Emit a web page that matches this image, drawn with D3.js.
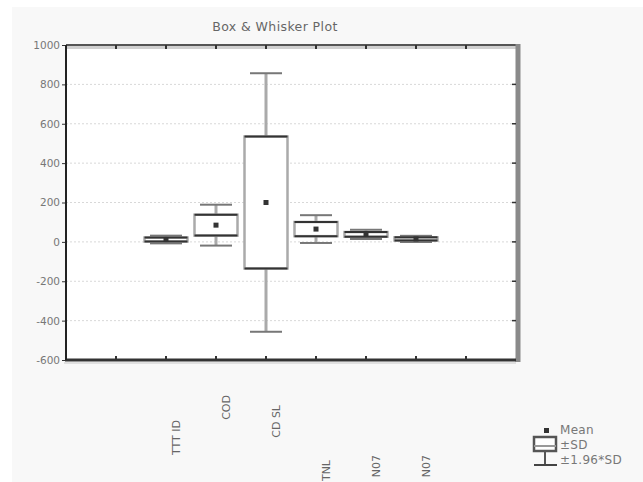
<!DOCTYPE html>
<html>
<head>
<meta charset="utf-8">
<script src="https://cdn.jsdelivr.net/npm/d3@7"></script>
<style>
  body { margin: 0; background: #fff; }
  text { font-family: "DejaVu Sans", Verdana, sans-serif; }
</style>
</head>
<body>
<svg width="643" height="482"></svg>
<script>
// variables (x positions 2..7 on a 0..9 axis)
const categories = ['TTT ID', 'COD', 'CD SL', 'TNL', 'N07', 'N07'];
const means = [12, 85, 200, 65, 38, 15];
const sds = [10, 53, 335, 36, 12, 8];
const yTicks = [1000, 800, 600, 400, 200, 0, -200, -400, -600];
const legendLabels = ['Mean', '±SD', '±1.96*SD'];

// where each rotated label starts (layout only)
const labelTop = [420, 395, 405, 460, 455, 455];

const pLeft = 66, pRight = 516, pTop = 45, pBottom = 360;
const fontFam = '"DejaVu Sans", Verdana, sans-serif';

const svg = d3.select('svg');

svg.append('rect').attr('x', 12).attr('y', 7).attr('width', 631).attr('height', 475).attr('fill', '#f8f8f8');
svg.append('rect').attr('x', pLeft).attr('y', pTop).attr('width', pRight - pLeft).attr('height', pBottom - pTop).attr('fill', '#fff');

const yScale = d3.scaleLinear().domain([-600, 1000]).range([pBottom, pTop]);
const xScale = d3.scaleLinear().domain([0, 9]).range([pLeft, pRight]);

// dotted grid
svg.append('g')
    .selectAll('line')
    .data(yTicks.slice(1, -1))
    .enter()
    .append('line')
    .attr('x1', pLeft).attr('x2', pRight)
    .attr('y1', (d) => yScale(d)).attr('y2', (d) => yScale(d))
    .attr('stroke', '#d8d8d8')
    .attr('stroke-dasharray', '2,2');

// frame
svg.append('line').attr('x1', pLeft).attr('x2', pRight).attr('y1', pTop + 2.5).attr('y2', pTop + 2.5).attr('stroke', '#d0d0d0').attr('stroke-width', 3);
svg.append('line').attr('x1', pLeft).attr('x2', pRight + 4).attr('y1', pTop).attr('y2', pTop).attr('stroke', '#555').attr('stroke-width', 2);
svg.append('line').attr('x1', pRight + 2).attr('x2', pRight + 2).attr('y1', pTop - 1).attr('y2', pBottom + 2).attr('stroke', '#8a8a8a').attr('stroke-width', 5);
svg.append('line').attr('x1', pLeft - 2).attr('x2', pRight).attr('y1', pBottom + 3).attr('y2', pBottom + 3).attr('stroke', '#e0e0e0').attr('stroke-width', 2);
svg.append('line').attr('x1', pLeft - 1).attr('x2', pRight).attr('y1', pBottom).attr('y2', pBottom).attr('stroke', '#333').attr('stroke-width', 3);
svg.append('line').attr('x1', pLeft).attr('x2', pLeft).attr('y1', pTop).attr('y2', pBottom).attr('stroke', '#222').attr('stroke-width', 2);

// y axis (ticks outside, labels)
svg.append('g')
    .attr('transform', `translate(${pLeft - 1}, 0)`)
    .call(d3.axisLeft(yScale).tickValues(yTicks).tickFormat((d) => String(d)).tickSize(3).tickPadding(2))
    .call((g) => g.select('.domain').remove())
    .call((g) => g.selectAll('line').attr('stroke', '#333'))
    .call((g) => g.selectAll('text').attr('font-size', 10.5).attr('fill', '#777').attr('font-family', fontFam));

// right ticks
svg.append('g')
    .selectAll('line')
    .data(yTicks.slice(1, -1))
    .enter()
    .append('line')
    .attr('x1', pRight - 4).attr('x2', pRight)
    .attr('y1', (d) => yScale(d)).attr('y2', (d) => yScale(d))
    .attr('stroke', '#333').attr('stroke-width', 1.5);

// top and bottom ticks
const xTicks = d3.range(1, 9);
svg.append('g')
    .selectAll('line')
    .data(xTicks)
    .enter()
    .append('line')
    .attr('x1', (d) => xScale(d)).attr('x2', (d) => xScale(d))
    .attr('y1', pTop).attr('y2', pTop + 4)
    .attr('stroke', '#333').attr('stroke-width', 2);
svg.append('g')
    .selectAll('line')
    .data(xTicks)
    .enter()
    .append('line')
    .attr('x1', (d) => xScale(d)).attr('x2', (d) => xScale(d))
    .attr('y1', pBottom - 4).attr('y2', pBottom)
    .attr('stroke', '#333').attr('stroke-width', 2);

// boxes
const stats = categories.map((c, i) => ({ name: c, pos: i + 2, mean: means[i], sd: sds[i] }));
const boxW = 43, capW = 32;

const boxes = svg.append('g').selectAll('g').data(stats).enter().append('g');

boxes.append('line')
    .attr('x1', (s) => xScale(s.pos)).attr('x2', (s) => xScale(s.pos))
    .attr('y1', (s) => yScale(s.mean + 1.96 * s.sd)).attr('y2', (s) => yScale(s.mean - 1.96 * s.sd))
    .attr('stroke', '#aaa').attr('stroke-width', 3);

boxes.append('line')
    .attr('x1', (s) => xScale(s.pos) - capW / 2).attr('x2', (s) => xScale(s.pos) + capW / 2)
    .attr('y1', (s) => yScale(s.mean + 1.96 * s.sd)).attr('y2', (s) => yScale(s.mean + 1.96 * s.sd))
    .attr('stroke', '#777').attr('stroke-width', 2);
boxes.append('line')
    .attr('x1', (s) => xScale(s.pos) - capW / 2).attr('x2', (s) => xScale(s.pos) + capW / 2)
    .attr('y1', (s) => yScale(s.mean - 1.96 * s.sd)).attr('y2', (s) => yScale(s.mean - 1.96 * s.sd))
    .attr('stroke', '#777').attr('stroke-width', 2);

boxes.append('rect')
    .attr('x', (s) => xScale(s.pos) - boxW / 2)
    .attr('y', (s) => yScale(s.mean + s.sd))
    .attr('width', boxW)
    .attr('height', (s) => yScale(s.mean - s.sd) - yScale(s.mean + s.sd))
    .attr('fill', '#fff')
    .attr('stroke', '#aaa').attr('stroke-width', 2.5);

boxes.append('line')
    .attr('x1', (s) => xScale(s.pos) - boxW / 2).attr('x2', (s) => xScale(s.pos) + boxW / 2)
    .attr('y1', (s) => yScale(s.mean + s.sd)).attr('y2', (s) => yScale(s.mean + s.sd))
    .attr('stroke', '#333').attr('stroke-width', 2);
boxes.append('line')
    .attr('x1', (s) => xScale(s.pos) - boxW / 2).attr('x2', (s) => xScale(s.pos) + boxW / 2)
    .attr('y1', (s) => yScale(s.mean - s.sd)).attr('y2', (s) => yScale(s.mean - s.sd))
    .attr('stroke', '#333').attr('stroke-width', 2);

boxes.append('rect')
    .attr('x', (s) => xScale(s.pos) - 2.5)
    .attr('y', (s) => yScale(s.mean) - 2.5)
    .attr('width', 5).attr('height', 5)
    .attr('fill', '#333');

// category labels, rotated
svg.append('g')
    .selectAll('text')
    .data(stats)
    .enter()
    .append('text')
    .attr('transform', (s, i) => `translate(${xScale(s.pos) + 14}, ${labelTop[i]}) rotate(-90)`)
    .attr('text-anchor', 'end')
    .attr('font-size', 11)
    .attr('fill', '#666')
    .text((s) => s.name);

// title
svg.append('text')
    .attr('x', 275)
    .attr('y', 31)
    .attr('text-anchor', 'middle')
    .attr('font-size', 12.5)
    .attr('letter-spacing', 0.4)
    .attr('fill', '#666')
    .text('Box & Whisker Plot');

// legend
const lg = svg.append('g').attr('transform', 'translate(533, 428)');
lg.append('rect').attr('x', 11).attr('y', 0).attr('width', 5).attr('height', 5).attr('fill', '#333');
lg.append('rect').attr('x', 1).attr('y', 9).attr('width', 22).attr('height', 14).attr('fill', '#fff').attr('stroke', '#555').attr('stroke-width', 2.5);
lg.append('line').attr('x1', 1).attr('x2', 23).attr('y1', 18).attr('y2', 18).attr('stroke', '#999').attr('stroke-width', 2);
lg.append('line').attr('x1', 12).attr('x2', 12).attr('y1', 23).attr('y2', 37).attr('stroke', '#555').attr('stroke-width', 2);
lg.append('line').attr('x1', 1).attr('x2', 24).attr('y1', 37).attr('y2', 37).attr('stroke', '#444').attr('stroke-width', 2);
lg.selectAll('text')
    .data(legendLabels)
    .enter()
    .append('text')
    .attr('x', 27)
    .attr('y', (d, i) => 6 + i * 15)
    .attr('font-size', 12)
    .attr('letter-spacing', 0.3)
    .attr('fill', '#777')
    .text((d) => d);
</script>
</body>
</html>
